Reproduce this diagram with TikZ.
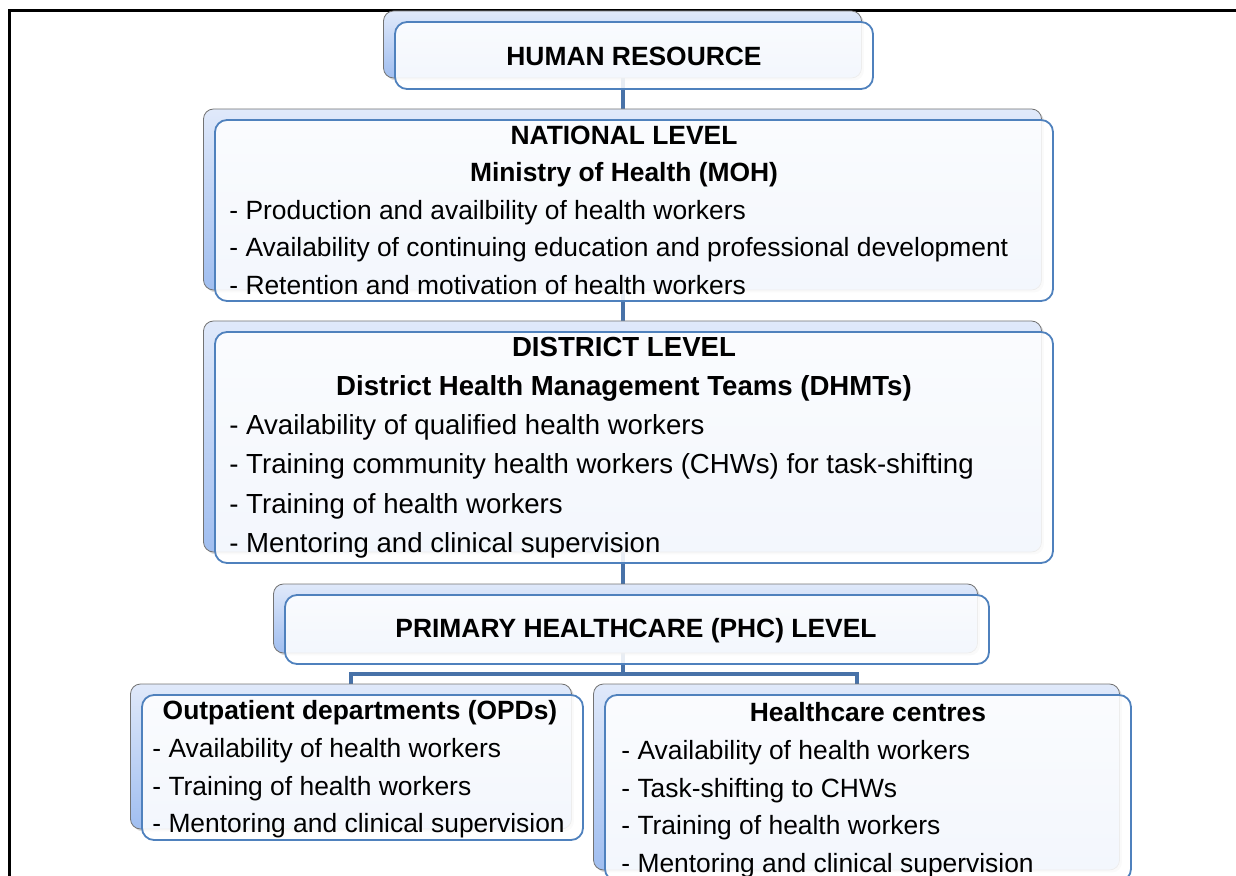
\documentclass[tikz,border=0pt]{standalone}
\usepackage{fontspec}
\setmainfont{Liberation Sans}
\usetikzlibrary{positioning, shadows, backgrounds}
\definecolor{tierline}{RGB}{79,129,189}
\definecolor{tiertop}{RGB}{224,233,250}
\definecolor{tierbot}{RGB}{160,190,240}
\definecolor{linkblue}{RGB}{72,114,168}
\tikzset{
  % --- stacked level boxes (back card + front card) ---
  tierback/.style={draw=black!55, line width=0.4pt, rounded corners=5pt,
    top color=tiertop, bottom color=tierbot, inner sep=0pt,
    drop shadow={shadow xshift=1.2pt, shadow yshift=-1.2pt, opacity=0.3}},
  tierfront/.style={draw=tierline, line width=0.9pt, rounded corners=6pt,
    fill=white, fill opacity=0.88, inner sep=0pt},
  % --- texts ---
  tiertitle/.style={font=\fontsize{13.2}{18}\selectfont\bfseries, inner sep=0pt, anchor=base},
  tieritem/.style={font=\fontsize{13.2}{18}\selectfont, inner sep=0pt, anchor=base west},
  disttitle/.style={tiertitle, font=\fontsize{13.8}{18}\selectfont\bfseries},
  distitem/.style={tieritem, font=\fontsize{13.8}{18}\selectfont},
  % --- connectors ---
  link/.style={draw=linkblue, line width=2pt, line join=miter},
}
% back card is shifted up-left of the front card
\newcommand{\tierbox}[5]{%
  \node[tierback, minimum width=#4*0.5pt, minimum height=#5*0.5pt] (#1-b) at (#2-11.5,#3-11) {};
  \node[tierfront, minimum width=#4*0.5pt, minimum height=#5*0.5pt] (#1) at (#2,#3) {};
}
\begin{document}
\begin{tikzpicture}[x=0.5pt, y=-0.5pt]
  \useasboundingbox (0,0) rectangle (1236,876);
  % frame
  \draw[line width=1.5pt] (9,876) -- (9,11) -- (1236,11);
  % boxes
  \tierbox{hr}{634}{55.5}{478}{67}
  \tierbox{nat}{634}{210.5}{838}{181}
  \tierbox{dis}{634}{447.5}{838}{231}
  \tierbox{phc}{637}{629.5}{704}{69}
  \tierbox{opd}{362.5}{767.5}{441}{145}
  \tierbox{hc}{868}{788}{526}{186}
  % connectors
  \coordinate (bus) at (0,674);
  \begin{scope}[on background layer]
    \draw[link] (hr-b.south) -- (nat-b.north);
    \draw[link] (nat-b.south) -- (dis-b.north);
    \draw[link] (dis-b.south) -- (dis-b.south |- phc-b.north);
    \draw[link] (dis-b.south |- phc-b.south) -- (dis-b.south |- bus);
    \draw[link] (opd-b.north) -- (opd-b.north |- bus) -- (hc-b.north |- bus) -- (hc-b.north);
  \end{scope}
  % texts
  \node[tiertitle] (hr-t) at (634,65.5) {HUMAN RESOURCE};
  \node[tiertitle] (nat-t1) at (624,144.5) {NATIONAL LEVEL};
  \node[tiertitle] (nat-t2) at (624,181.5) {Ministry of Health (MOH)};
  \foreach \t [count=\i] in {- Production and availbility of health workers,
      - Availability of continuing education and professional development,
      - Retention and motivation of health workers}
    \node[tieritem] (nat-\i) at (229,182+37.5*\i) {\t};
  \node[disttitle] (dis-t1) at (624,357) {DISTRICT LEVEL};
  \node[disttitle] (dis-t2) at (624,396) {District Health Management Teams (DHMTs)};
  \foreach \t [count=\i] in {- Availability of qualified health workers,
      - Training community health workers (CHWs) for task-shifting,
      - Training of health workers,
      - Mentoring and clinical supervision}
    \node[distitem] (dis-\i) at (229,395.6+39.2*\i) {\t};
  \node[tiertitle] (phc-t) at (636,637.5) {PRIMARY HEALTHCARE (PHC) LEVEL};
  \node[tiertitle] (opd-t) at (360,719.5) {Outpatient departments (OPDs)};
  \foreach \t [count=\i] in {- Availability of health workers,
      - Training of health workers,
      - Mentoring and clinical supervision}
    \node[tieritem] (opd-\i) at (152,720+37.5*\i) {\t};
  \node[tiertitle] (hc-t) at (868,721.5) {Healthcare centres};
  \foreach \t [count=\i] in {- Availability of health workers,
      - Task-shifting to CHWs,
      - Training of health workers,
      - Mentoring and clinical supervision}
    \node[tieritem] (hc-\i) at (621,722+37.5*\i) {\t};
\end{tikzpicture}
\end{document}
